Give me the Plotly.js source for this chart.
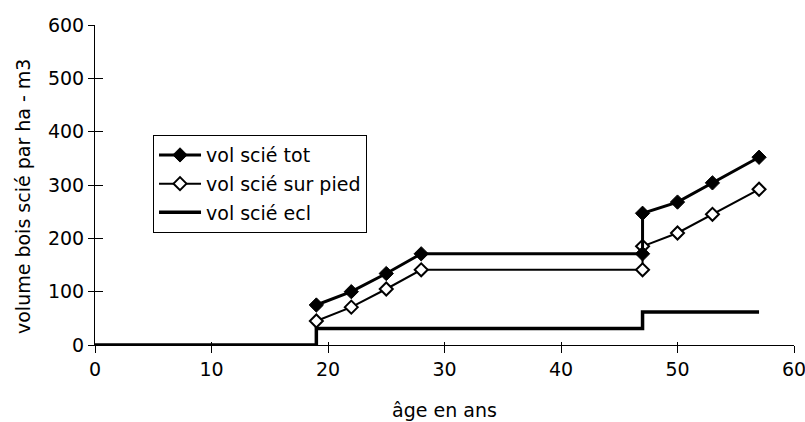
<!DOCTYPE html>
<html>
<head>
<meta charset="utf-8">
<script src="https://cdn.plot.ly/plotly-3.0.1.min.js"></script>
<style>html,body{margin:0;padding:0;background:#fff;}#chart{width:805px;height:422px;}</style>
</head>
<body>
<div id="chart"></div>
<script>
// Data
const ageTot = [19, 22, 25, 28, 47, 47, 50, 53, 57];
const volTot = [75, 100, 134, 171, 171, 247, 268, 304, 352];
const ageSurPied = [19, 22, 25, 28, 47, 47, 50, 53, 57];
const volSurPied = [45, 71, 105, 141, 141, 185, 210, 245, 292];
const ageEcl = [0, 19, 19, 47, 47, 57];
const volEcl = [0, 0, 31, 31, 62, 62];
const names = ['vol scié tot', 'vol scié sur pied', 'vol scié ecl'];
const xTicks = [0, 10, 20, 30, 40, 50, 60];
const yTicks = [0, 100, 200, 300, 400, 500, 600];
const xTitle = 'âge en ans';
const yTitle = 'volume bois scié par ha - m3';

const FONT = 'DejaVu Sans, Liberation Sans, Arial, sans-serif';
const FS = 19;

const traces = [
  {x: ageEcl, y: volEcl, name: names[2], mode: 'lines',
   line: {color: '#000', width: 3.5}, legendrank: 3, legendgroup: 'c'},
  {x: ageSurPied, y: volSurPied, name: names[1], mode: 'lines+markers',
   line: {color: '#000', width: 2},
   marker: {symbol: 'diamond', size: 10, color: '#fff', line: {color: '#000', width: 2}},
   legendrank: 2, legendgroup: 'b'},
  {x: ageTot, y: volTot, name: names[0], mode: 'lines+markers',
   line: {color: '#000', width: 3},
   marker: {symbol: 'diamond', size: 11, color: '#000', line: {color: '#000', width: 1}},
   legendrank: 1, legendgroup: 'a'},
  {x: [0], y: [0], xaxis: 'x2', yaxis: 'y2', mode: 'markers', showlegend: false,
   marker: {opacity: 0}, hoverinfo: 'skip'}
];

const layout = {
  width: 805, height: 422,
  margin: {l: 95, r: 11, t: 25, b: 77},
  paper_bgcolor: '#fff', plot_bgcolor: '#fff',
  font: {family: FONT, size: FS, color: '#000'},
  showlegend: true,
  legend: {
    x: 0.083, y: 0.656, xanchor: 'left', yanchor: 'top',
    bordercolor: '#000', borderwidth: 1, bgcolor: '#fff',
    font: {family: FONT, size: FS, color: '#000'},
    traceorder: 'grouped', tracegroupgap: 1, itemwidth: 42
  },
  xaxis: {
    range: [0, 60], tickvals: xTicks, ticktext: xTicks.map(String),
    showgrid: false, zeroline: false,
    showline: true, linecolor: '#000', linewidth: 1,
    ticks: 'outside', ticklen: 7, tickcolor: '#000', tickwidth: 1,
    ticklabeloverflow: 'allow',
    tickfont: {family: FONT, size: FS, color: '#000'},
    title: {text: xTitle, font: {family: FONT, size: FS, color: '#000'}, standoff: 24}
  },
  yaxis: {
    range: [0, 600], tickvals: yTicks, ticktext: yTicks.map(String),
    showgrid: false, zeroline: false,
    showline: true, linecolor: '#000', linewidth: 1,
    ticks: 'outside', ticklen: 6, tickcolor: '#000', tickwidth: 1,
    ticklabeloverflow: 'allow',
    tickfont: {family: FONT, size: FS, color: '#000'}
  },
  xaxis2: {
    overlaying: 'x', anchor: 'y2', range: [0, 60], tickvals: xTicks,
    showticklabels: false, showgrid: false, zeroline: false, showline: false,
    ticks: 'inside', ticklen: 3, tickcolor: '#000', tickwidth: 1
  },
  yaxis2: {
    overlaying: 'y', anchor: 'x2', range: [0, 600], tickvals: yTicks,
    showticklabels: false, showgrid: false, zeroline: false, showline: false,
    ticks: 'inside', ticklen: 8, tickcolor: '#000', tickwidth: 1
  },
  annotations: [{
    text: yTitle, textangle: -90, showarrow: false,
    xref: 'paper', yref: 'paper', x: -0.103, y: 0.4625,
    xanchor: 'center', yanchor: 'middle',
    font: {family: FONT, size: FS, color: '#000'}
  }]
};

Plotly.newPlot('chart', traces, layout, {displayModeBar: false, staticPlot: true});
</script>
</body>
</html>
